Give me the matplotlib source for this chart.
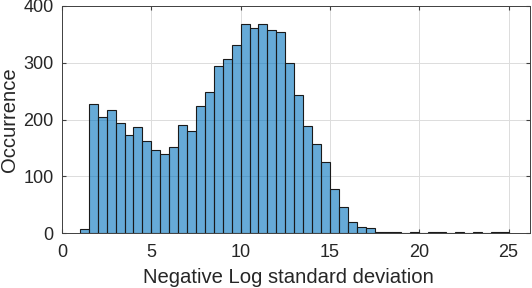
import matplotlib.pyplot as plt
import numpy as np

# bin edges: width 0.5 starting at 1.0
bin_start = 1.0
bin_width = 0.5
counts = [7, 228, 205, 216, 194, 173, 187, 162, 147, 140,
          152, 191, 179, 224, 248, 295, 306, 332, 368, 362,
          368, 357, 354, 300, 243, 189, 156, 125, 77, 46,
          20, 10, 8, 2, 1, 1, 0, 1, 0, 1,
          1, 0, 1, 0, 1, 0, 1, 1]

xticks = [0, 5, 10, 15, 20, 25]
yticks = [0, 100, 200, 300, 400]


def main():
    plt.rcParams['font.family'] = ['Liberation Sans', 'DejaVu Sans']
    fig = plt.figure(figsize=(5.32, 2.88), dpi=100)
    ax = fig.add_axes([62 / 532, 1 - 233 / 288, (530 - 62) / 532, (233 - 6) / 288])

    edges = bin_start + bin_width * np.arange(len(counts) + 1)
    ax.hist(edges[:-1], bins=edges, weights=counts,
            facecolor=(0, 0.447, 0.741, 0.6), edgecolor='#1a1a1a', linewidth=0.8)

    ax.set_xlim(0, 26.2)
    ax.set_ylim(0, 400)
    ax.set_xticks(xticks)
    ax.set_yticks(yticks)
    ax.grid(True, color='#dcdcdc', linewidth=0.7)
    ax.set_axisbelow(True)
    ax.tick_params(direction='in', top=True, right=True, length=3,
                   labelsize=13, color='#404040', labelcolor='#262626')
    ax.tick_params(axis='x', pad=8)
    ax.tick_params(axis='y', pad=6)
    for s in ax.spines.values():
        s.set_color('#404040')
        s.set_linewidth(0.7)

    ax.set_xlabel('Negative Log standard deviation', fontsize=14.6, color='#262626')
    ax.xaxis.label.set_va('baseline')
    ax.xaxis.set_label_coords(0.484, (233 - 283) / 227)
    ax.set_ylabel('Occurrence', fontsize=14.6, color='#262626')
    ax.yaxis.label.set_va('center')
    ax.yaxis.set_label_coords((9.5 - 62) / 468, 0.5)

    fig.savefig('out.png', dpi=100)


if __name__ == "__main__":
    main()
